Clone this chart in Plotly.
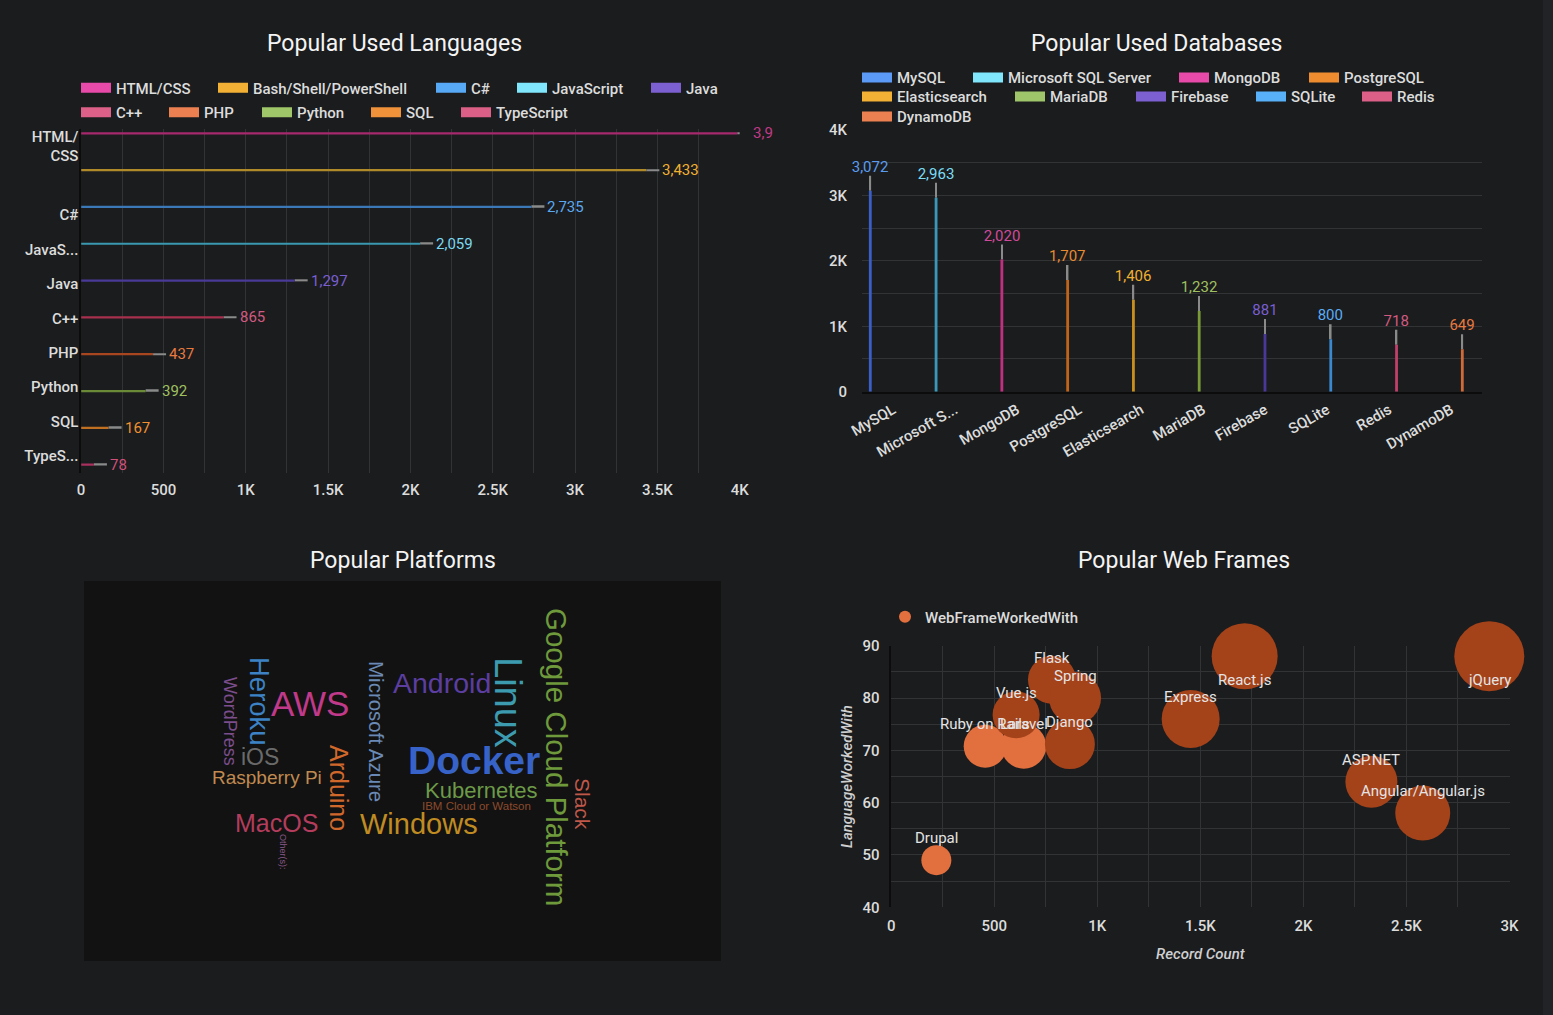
import plotly.graph_objects as go

W, H = 1553, 1015
BG = "#1b1c1e"
GRID = "#323335"
AXLINE = "#0c0c0c"
TXT = "#dcdcdc"
FONT = "Roboto"
CLOUD_FONT = "Liberation Sans"

# ------------------------------------------------------------------ data
# Popular Used Languages
languages = ["HTML/CSS", "Bash/Shell/PowerShell", "C#", "JavaScript", "Java",
             "C++", "PHP", "Python", "SQL", "TypeScript"]
language_counts = [3985, 3433, 2735, 2059, 1297, 865, 437, 392, 167, 78]
language_tick_labels = ["HTML/<br>CSS", "", "C#", "JavaS...", "Java",
                        "C++", "PHP", "Python", "SQL", "TypeS..."]
lang_axis_ticks = [0, 500, 1000, 1500, 2000, 2500, 3000, 3500, 4000]
lang_axis_tick_labels = ["0", "500", "1K", "1.5K", "2K", "2.5K", "3K", "3.5K", "4K"]

# Popular Used Databases
databases = ["MySQL", "Microsoft SQL Server", "MongoDB", "PostgreSQL", "Elasticsearch",
             "MariaDB", "Firebase", "SQLite", "Redis", "DynamoDB"]
database_counts = [3072, 2963, 2020, 1707, 1406, 1232, 881, 800, 718, 649]
database_tick_labels = ["MySQL", "Microsoft S...", "MongoDB", "PostgreSQL", "Elasticsearch",
                        "MariaDB", "Firebase", "SQLite", "Redis", "DynamoDB"]
db_axis_ticks = [0, 1000, 2000, 3000, 4000]
db_axis_tick_labels = ["0", "1K", "2K", "3K", "4K"]

# Popular Platforms (word cloud, weight ~ relative frequency)
platforms = ["Docker", "Linux", "AWS", "Windows", "Google Cloud Platform", "Android",
             "Heroku", "Arduino", "MacOS", "iOS", "Kubernetes", "Slack",
             "Microsoft Azure", "Raspberry Pi", "WordPress", "IBM Cloud or Watson", "Other(s):"]
platform_weights = [39, 38, 35, 29, 29.5, 28.5, 27.5, 25, 25, 23, 22, 21, 20.5, 19, 18, 11.5, 9]

# Popular Web Frames
web_frames = ["Drupal", "Ruby on Rails", "Laravel", "Vue.js", "Django", "Flask", "Spring",
              "Express", "React.js", "ASP.NET", "Angular/Angular.js", "jQuery"]
web_frame_records = [219, 456, 643, 606, 867, 780, 892, 1453, 1715, 2330, 2579, 2902]
web_frame_languages = [49, 70.8, 70.8, 76.8, 71.2, 83.5, 80, 76, 88, 64, 58, 88]
web_frame_weight = [30, 43, 45, 47, 50, 48, 52, 58, 66, 52, 55, 70]
web_axis_x_ticks = [0, 500, 1000, 1500, 2000, 2500, 3000]
web_axis_x_labels = ["0", "500", "1K", "1.5K", "2K", "2.5K", "3K"]
web_axis_y_ticks = [40, 50, 60, 70, 80, 90]
web_axis_y_labels = ["40", "50", "60", "70", "80", "90"]

# ------------------------------------------------------------------ styles
lang_legend_colors = ["#e84aa9", "#f2b134", "#58a9f5", "#80e6fc", "#7c5fd0",
                      "#dc6088", "#ed8050", "#a0c66a", "#f0923a", "#dc5f87"]
lang_bar_colors = ["#a8286f", "#b08a28", "#3a78b8", "#3a98b0", "#4a3a98",
                   "#a8304e", "#a84620", "#6a8a38", "#c07020", "#a8305e"]
lang_label_colors = ["#c03a88", "#f0b030", "#5aa8f0", "#7ad8f0", "#7a5fd0",
                     "#d05a80", "#e87a40", "#a0c060", "#f09030", "#d0507a"]

db_legend_colors = ["#5b9af7", "#80e6fc", "#e84aa9", "#f08c30", "#f2b134",
                    "#9fc56a", "#7c5fd0", "#58b0f8", "#dc5f87", "#ed8050"]
db_bar_colors = ["#3a60c8", "#3a98b8", "#c02f80", "#c06418", "#c8901e",
                 "#7a9a38", "#4a3898", "#3a88d0", "#c0406a", "#d06a38"]
db_label_colors = ["#5a9cf0", "#7adcf5", "#d04a9a", "#e88a30", "#f0b030",
                   "#a0c060", "#7a5fd0", "#5aacf5", "#d05a80", "#e87a40"]

# word cloud placement (panel-local pixels), rotation, colour, bold
cloud_style = {
    "Docker": (390, 179, 0, "#3763c8", True),
    "Linux": (424, 121, 90, "#3d9bb0", False),
    "AWS": (226, 122, 0, "#c0398a", False),
    "Windows": (335, 243, 0, "#c08c22", False),
    "Google Cloud Platform": (473, 176, 90, "#6f9a3c", False),
    "Android": (358, 102, 0, "#5b3ea0", False),
    "Heroku": (176, 120, 90, "#3c82c4", False),
    "Arduino": (255, 207, 90, "#d0682c", False),
    "MacOS": (192, 242, 0, "#b43c5c", False),
    "iOS": (176, 176, 0, "#6a6a6a", False),
    "Kubernetes": (397, 209, 0, "#6c9a48", False),
    "Slack": (499, 223, 90, "#c0584a", False),
    "Microsoft Azure": (293, 150, 90, "#6a8ab5", False),
    "Raspberry Pi": (183, 196, 0, "#c08a50", False),
    "WordPress": (146, 140, 90, "#7b4d8c", False),
    "IBM Cloud or Watson": (392, 225, 0, "#8c4a2c", False),
    "Other(s):": (199, 271, 90, "#8c5a8c", False),
}

web_light, web_dark = "#e2703e", "#a4421a"
web_frame_colors = [web_light, web_light, web_light, web_dark, web_dark, web_dark, web_dark,
                    web_dark, web_dark, web_dark, web_dark, web_dark]

# panel geometry (pixels)
P1 = dict(x0=81.1, x1=739.7, y0=129.3, y1=473.0)
P2 = dict(x0=862.0, x1=1482.0, y0=130.0, y1=391.7)
P3 = dict(x0=84.0, x1=721.0, y0=581.0, y1=961.0)
P4 = dict(x0=891.2, x1=1509.5, y0=645.7, y1=907.3)


def dom_x(p):
    return [p["x0"] / W, p["x1"] / W]


def dom_y(p):
    return [1 - p["y1"] / H, 1 - p["y0"] / H]


def with_minor(ticks, labels, step):
    vals, texts = [], []
    lab = dict(zip(ticks, labels))
    v = ticks[0]
    while v <= ticks[-1] + 1e-9:
        vals.append(v)
        texts.append(lab.get(v, ""))
        v += step
    return vals, texts


fig = go.Figure()
annotations = []

# ------------------------------------------------------------------ legends (one per entry)
legend_layout = {}
legend_counter = [0]


def new_legend(icon_x, cy, **extra):
    legend_counter[0] += 1
    n = legend_counter[0]
    lid = "legend" if n == 1 else f"legend{n}"
    d = dict(x=(icon_x - 5) / W, y=1 - cy / H, xref="paper", yref="paper",
             xanchor="left", yanchor="middle", orientation="h",
             bgcolor="rgba(0,0,0,0)", borderwidth=0,
             font=dict(family=FONT, size=15, color=TXT, weight=500))
    d.update(extra)
    legend_layout[lid] = d
    return lid


lang_legend_pos = [(81, 88), (218, 88), (436, 88), (517, 88), (651, 88),
                   (81, 112.5), (169, 112.5), (262, 112.5), (371, 112.5), (461, 112.5)]
db_legend_pos = [(862, 77.7), (973, 77.7), (1179, 77.7), (1309, 77.7),
                 (862, 96.7), (1015, 96.7), (1136, 96.7), (1256, 96.7), (1362, 96.7),
                 (862, 116.7)]

# ------------------------------------------------------------------ chart 1: languages
band1 = (P1["y1"] - P1["y0"]) / len(languages)
ppu1 = (P1["x1"] - P1["x0"]) / 4000.0
LEADER1_PX = 13
leader1 = LEADER1_PX / ppu1
w1, gw1 = 2.2 / band1, 1.6 / band1
for i, (lang, v) in enumerate(zip(languages, language_counts)):
    c_px = -13.2 + 2.45 * i
    c = c_px / band1
    fig.add_trace(go.Bar(
        y=[lang], x=[leader1], base=[v], orientation="h", width=gw1, offset=c - gw1 / 2,
        marker=dict(color="#8a8a8a", line=dict(width=0)),
        showlegend=False, legendgroup=lang, hoverinfo="skip", xaxis="x", yaxis="y"))
    fig.add_trace(go.Bar(
        y=[lang], x=[v], orientation="h", width=w1, offset=c - w1 / 2,
        marker=dict(color=lang_bar_colors[i], line=dict(width=0)),
        showlegend=False, legendgroup=lang, name=lang, xaxis="x", yaxis="y"))
    text = f"{v:,}"
    if i == 0:
        text = text[:3]  # clipped by the panel edge in the original
    annotations.append(dict(
        x=v, y=lang, xref="x", yref="y", text=text, showarrow=False,
        xanchor="left", yanchor="middle", xshift=LEADER1_PX + 1, yshift=-c_px,
        font=dict(family=FONT, size=15, color=lang_label_colors[i])))
    lid = new_legend(*lang_legend_pos[i])
    fig.add_trace(go.Scatter(
        x=[None], y=[None], mode="lines", line=dict(color=lang_legend_colors[i], width=10),
        name=lang, legend=lid, legendgroup=lang, showlegend=True, hoverinfo="skip",
        xaxis="x", yaxis="y"))

# ------------------------------------------------------------------ chart 2: databases
band2 = (P2["x1"] - P2["x0"]) / len(databases)
ppu2 = (P2["y1"] - P2["y0"]) / 4000.0
leader2 = 15 / ppu2
w2, gw2 = 2.8 / band2, 1.6 / band2
for i, (db, v) in enumerate(zip(databases, database_counts)):
    c = (-22.7 + 3.78 * i) / band2
    fig.add_trace(go.Bar(
        x=[db], y=[leader2], base=[v], width=gw2, offset=c - gw2 / 2,
        marker=dict(color="#8a8a8a", line=dict(width=0)), text=[f"{v:,}"],
        textposition="outside", textangle=0, constraintext="none", cliponaxis=False,
        textfont=dict(family=FONT, size=15, color=db_label_colors[i]),
        showlegend=False, legendgroup=db, hoverinfo="skip", xaxis="x2", yaxis="y2"))
    fig.add_trace(go.Bar(
        x=[db], y=[v], width=w2, offset=c - w2 / 2,
        marker=dict(color=db_bar_colors[i], line=dict(width=0)),
        showlegend=False, legendgroup=db, name=db, xaxis="x2", yaxis="y2"))
    lid = new_legend(*db_legend_pos[i])
    fig.add_trace(go.Scatter(
        x=[None], y=[None], mode="lines", line=dict(color=db_legend_colors[i], width=10),
        name=db, legend=lid, legendgroup=db, showlegend=True, hoverinfo="skip",
        xaxis="x2", yaxis="y2"))

# ------------------------------------------------------------------ chart 3: word cloud
for word, wgt in zip(platforms, platform_weights):
    cx, cy, ang, col, bold = cloud_style[word]
    annotations.append(dict(
        x=cx, y=cy, xref="x3", yref="y3", text=word, showarrow=False, textangle=ang,
        xanchor="center", yanchor="middle",
        font=dict(family=CLOUD_FONT, size=wgt, color=col, weight="bold" if bold else "normal")))

# ------------------------------------------------------------------ chart 4: bubbles
lid4 = new_legend(905 - 15, 617, itemsizing="constant")
fig.add_trace(go.Scatter(
    x=web_frame_records, y=web_frame_languages, mode="markers", name="WebFrameWorkedWith",
    text=web_frames, legend=lid4, cliponaxis=False,
    marker=dict(size=web_frame_weight, sizemode="diameter", sizeref=1,
                color=web_frame_colors, opacity=1, line=dict(width=0)),
    hovertemplate="%{text}<br>%{x}<br>%{y}<extra></extra>", xaxis="x4", yaxis="y4"))
for name, xv, yv in zip(web_frames, web_frame_records, web_frame_languages):
    below = yv >= 87
    annotations.append(dict(
        x=xv, y=yv, xref="x4", yref="y4", text=name, showarrow=False,
        xanchor="center", yanchor="middle", yshift=-24 if below else 22,
        font=dict(family=FONT, size=15, color="#e4e4e4")))

# ------------------------------------------------------------------ titles
for t, cx, cy in [("Popular Used Languages", 394, 44), ("Popular Used Databases", 1156, 44),
                  ("Popular Platforms", 402.5, 560), ("Popular Web Frames", 1184, 560)]:
    annotations.append(dict(x=cx / W, y=1 - cy / H, xref="paper", yref="paper", text=t,
                            showarrow=False, xanchor="center", yanchor="middle",
                            font=dict(family=FONT, size=23, color="#f4f4f4")))

# ------------------------------------------------------------------ axes
tickfont = dict(family=FONT, size=15, color=TXT, weight=500)
lx_vals, lx_text = with_minor(lang_axis_ticks, lang_axis_tick_labels, 250)
dby_vals, dby_text = with_minor(db_axis_ticks, db_axis_tick_labels, 500)
wx_vals, wx_text = with_minor(web_axis_x_ticks, web_axis_x_labels, 250)
wy_vals, wy_text = with_minor(web_axis_y_ticks, web_axis_y_labels, 5)

layout_axes = dict(
    xaxis=dict(domain=dom_x(P1), anchor="y", range=[0, 4000], tickmode="array",
               tickvals=lx_vals, ticktext=lx_text, showgrid=True, gridcolor=GRID,
               zeroline=False, showline=False, ticks="", ticklabelstandoff=6,
               tickfont=tickfont, fixedrange=True, automargin=False),
    yaxis=dict(domain=dom_y(P1), anchor="x", type="category", categoryorder="array",
               categoryarray=languages, range=[9.5, -0.5], tickmode="array",
               tickvals=languages, ticktext=language_tick_labels, showgrid=False,
               zeroline=False, showline=True, linecolor=AXLINE, linewidth=1.5, ticks="",
               ticklabelstandoff=-2, tickfont=tickfont, fixedrange=True, automargin=False),
    xaxis2=dict(domain=dom_x(P2), anchor="y2", type="category", categoryorder="array",
                categoryarray=databases, range=[-0.5, 9.5], tickmode="array",
                tickvals=databases, ticktext=database_tick_labels, tickangle=-30,
                showgrid=False, zeroline=False, showline=True, linecolor=AXLINE,
                linewidth=1.5, ticks="", ticklabelstandoff=2, tickfont=tickfont,
                fixedrange=True, automargin=False),
    yaxis2=dict(domain=dom_y(P2), anchor="x2", range=[0, 4000], tickmode="array",
                tickvals=dby_vals, ticktext=dby_text, showgrid=True, gridcolor=GRID,
                zeroline=False, showline=False, ticks="", ticklabelstandoff=14,
                tickfont=tickfont, fixedrange=True, automargin=False),
    xaxis3=dict(domain=dom_x(P3), anchor="y3", range=[0, P3["x1"] - P3["x0"]],
                visible=False, fixedrange=True),
    yaxis3=dict(domain=dom_y(P3), anchor="x3", range=[P3["y1"] - P3["y0"], 0],
                visible=False, fixedrange=True),
    xaxis4=dict(domain=dom_x(P4), anchor="y4", range=[0, 3000], tickmode="array",
                tickvals=wx_vals, ticktext=wx_text, showgrid=True, gridcolor=GRID,
                zeroline=False, showline=False, ticks="", ticklabelstandoff=8,
                tickfont=tickfont, fixedrange=True, automargin=False,
                title=dict(text="Record Count", standoff=14,
                           font=dict(family=FONT, size=15, color="#cfcfcf",
                                     style="italic", weight=500))),
    yaxis4=dict(domain=dom_y(P4), anchor="x4", range=[40, 90], tickmode="array",
                tickvals=wy_vals, ticktext=wy_text, showgrid=True, gridcolor=GRID,
                zeroline=False, showline=True, linecolor=AXLINE, linewidth=1.5, ticks="",
                ticklabelstandoff=7, tickfont=tickfont, fixedrange=True, automargin=False,
                title=dict(text="LanguageWorkedWith", standoff=6,
                           font=dict(family=FONT, size=15, color="#cfcfcf",
                                     style="italic", weight=500))),
)

shapes = [
    dict(type="rect", xref="x3 domain", yref="y3 domain", x0=0, x1=1, y0=0, y1=1,
         fillcolor="#121212", line=dict(width=0), layer="below"),
    dict(type="rect", xref="paper", yref="paper", x0=1543 / W, x1=1, y0=0, y1=1,
         fillcolor="#222326", line=dict(width=0), layer="below"),
]

fig.update_layout(
    width=W, height=H, margin=dict(l=0, r=0, t=0, b=0, pad=0, autoexpand=False),
    paper_bgcolor=BG, plot_bgcolor="rgba(0,0,0,0)", barmode="overlay",
    font=dict(family=FONT, color=TXT), showlegend=True,
    annotations=annotations, shapes=shapes, hovermode="closest",
    **layout_axes, **legend_layout)

fig.write_html("out.html")
